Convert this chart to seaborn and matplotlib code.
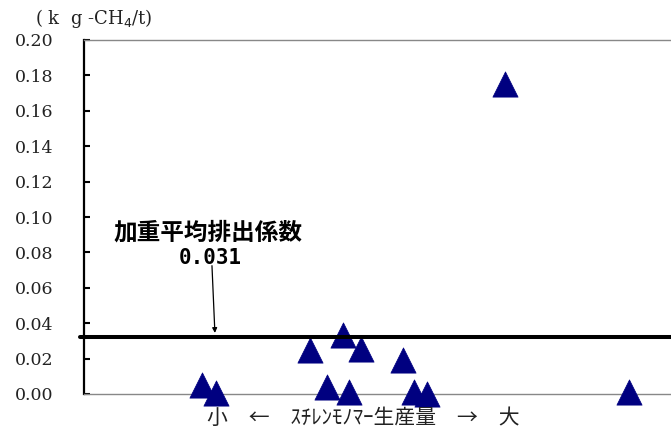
import matplotlib
matplotlib.use("Agg")
import matplotlib.pyplot as plt
import seaborn as sns
import pandas as pd

# ---- data ----
production_pos = [20.1, 22.5, 38.5, 41.4, 44.1, 45.1, 47.2, 54.3, 56.2, 58.4, 71.7, 92.8]
emission_factor = [0.005, 0.0005, 0.025, 0.004, 0.0335, 0.0013, 0.0255, 0.0192, 0.0013, 0.0, 0.175, 0.0013]
weighted_avg_line = 0.032
weighted_avg_label = "0.031"
yticks = [0.00, 0.02, 0.04, 0.06, 0.08, 0.10, 0.12, 0.14, 0.16, 0.18, 0.20]
ytick_labels = ["%.2f" % v for v in yticks]
unit_label = "( k  g -CH$_4$/t)"
annot_title = "加重平均排出係数"
xlabel_text = "小　←　ｽﾁﾚﾝﾓﾉﾏｰ生産量　→　大"

df = pd.DataFrame({"x": production_pos, "y": emission_factor})

sns.set_theme(style="white")
plt.rcParams['font.family'] = ['Noto Sans CJK JP', 'DejaVu Sans']

fig = plt.figure(figsize=(6.71, 4.30), dpi=100)
ax = fig.add_axes([84/671, 36/430, 587/671, 354/430])

sns.scatterplot(data=df, x="x", y="y", marker="^", s=330, color="#000080",
                edgecolor="#000080", linewidth=0.5, ax=ax, clip_on=False, zorder=3)

ax.axhline(weighted_avg_line, xmin=-0.007, xmax=1.0, color="black", lw=2.9,
           clip_on=False, zorder=4)

ax.set_xlim(0, 100)
ax.set_ylim(0, 0.20)
ax.set_xticks([])
ax.set_yticks(yticks)
ax.set_yticklabels(ytick_labels, fontfamily="DejaVu Serif", fontsize=12.5)
ax.tick_params(axis="y", direction="in", length=4.5, width=1.5, color="black",
               pad=22, left=True, labelcolor="#222222")
ax.set_xlabel("")
ax.set_ylabel("")

for side in ["top", "bottom"]:
    ax.spines[side].set_color("#888888")
    ax.spines[side].set_linewidth(1.0)
ax.spines["right"].set_visible(False)
ax.spines["left"].set_color("black")
ax.spines["left"].set_linewidth(1.6)

# annotation
ax.text(21.2, (394-232)/1770, annot_title, ha="center", va="center",
        fontsize=17, fontweight="bold", color="black")
ax.text(21.6, (394-258)/1770, weighted_avg_label, ha="center", va="center",
        fontsize=15, fontweight="bold", fontfamily="DejaVu Sans Mono", color="black")
ax.annotate("", xy=(22.3, 0.0345), xytext=(21.8, 0.0725),
            arrowprops=dict(arrowstyle="-|>", color="black", lw=0.9,
                            mutation_scale=7, shrinkA=0, shrinkB=0))

fig.text(35/671, 1 - 18/430, unit_label, ha="left", va="center",
         fontsize=13, fontfamily="DejaVu Serif", color="#222222")
fig.text(363/671, 1 - 418/430, xlabel_text, ha="center", va="center",
         fontsize=15, color="#222222")

fig.savefig("out.png", dpi=100)
